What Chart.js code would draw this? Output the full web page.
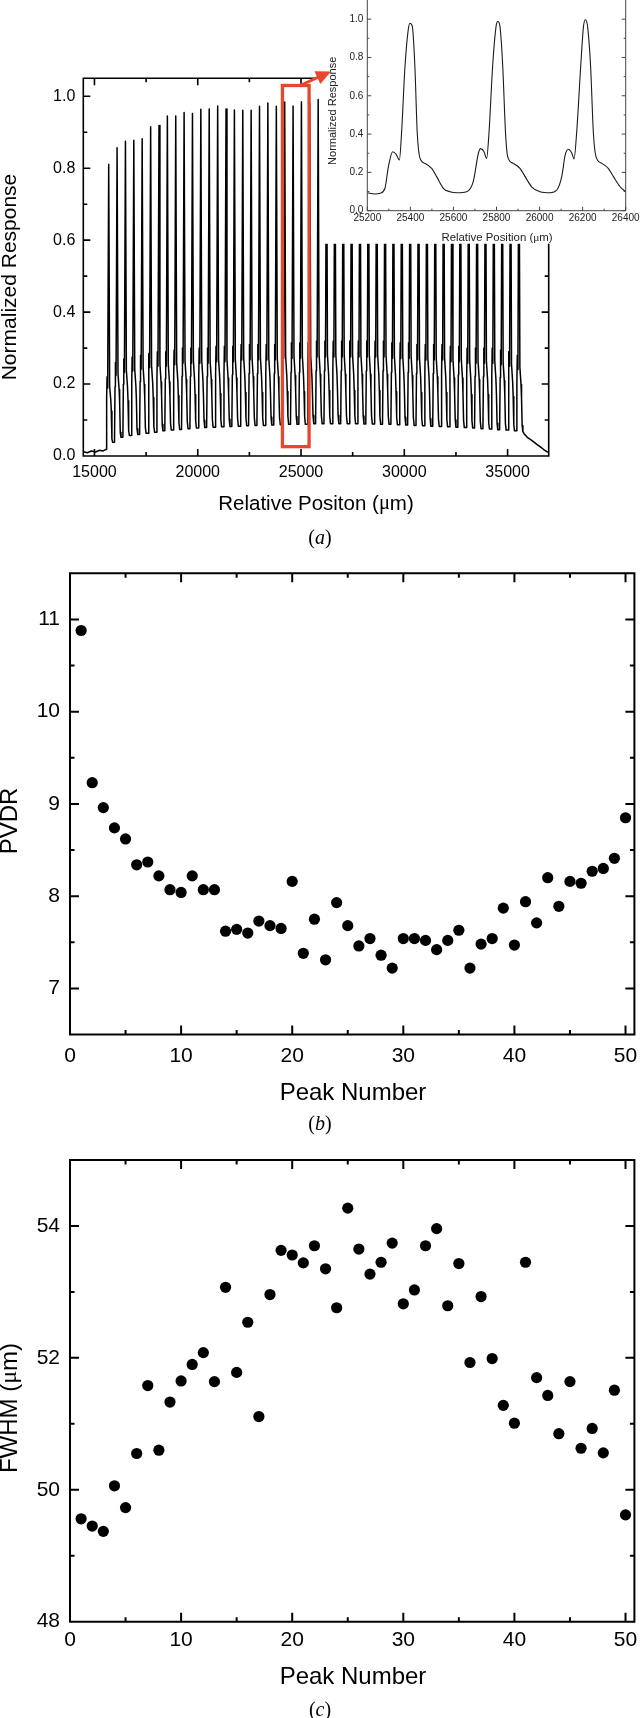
<!DOCTYPE html>
<html><head><meta charset="utf-8">
<script src="https://cdn.jsdelivr.net/npm/chart.js@4.4.1/dist/chart.umd.min.js"></script>
<style>
html,body{margin:0;padding:0;background:#fff;}
#page{position:relative;width:640px;height:1718px;overflow:hidden;background:#fff;}
canvas{position:absolute;}
.cap{position:absolute;left:0;width:640px;text-align:center;font-family:"Liberation Serif","Times New Roman",serif;font-size:20px;line-height:24px;height:24px;color:#000;}
</style></head><body>
<div id="page">
<canvas id="cA" width="640" height="530" style="left:0;top:0;width:640px;height:530px"></canvas>
<canvas id="cI" width="318" height="250" style="left:322px;top:0;width:318px;height:250px"></canvas>
<canvas id="cB" width="640" height="570" style="left:0;top:540px;width:640px;height:570px"></canvas>
<canvas id="cC" width="640" height="588" style="left:0;top:1130px;width:640px;height:588px"></canvas>
<div class="cap" style="top:525px">(<i>a</i>)</div>
<div class="cap" style="top:1111px">(<i>b</i>)</div>
<div class="cap" style="top:1697px">(<i>c</i>)</div>
</div>
<script>
const SANS = '"Liberation Sans", Arial, Helvetica, sans-serif';
const SERIF = '"Liberation Serif", "Times New Roman", serif';

// ---------- Panel (a): main scan ----------
const peakPositions = [15690,16095,16500,16905,17310,17720,18125,18530,18935,19340,
  19745,20150,20555,20965,21370,21775,22180,22585,22990,23395,
  23805,24210,24615,25020,25425,25830,26235,26640,27045,27450,
  27855,28260,28665,29070,29475,29880,30285,30690,31095,31500,
  31905,32310,32715,33120,33525,33930,34335,34740,35145,35550];
const peakHeights = [0.811,0.857,0.875,0.878,0.882,0.915,0.919,0.945,0.945,0.955,
  0.952,0.964,0.965,0.973,0.965,0.962,0.961,0.961,0.972,0.981,
  0.972,0.984,0.973,0.985,0.980,0.991,1.000,0.990,0.990,0.990,
  0.990,0.990,0.990,0.990,0.990,0.990,0.990,0.990,0.990,0.990,
  0.990,0.990,0.990,0.990,0.990,0.990,0.990,0.990,0.990,0.990];
const shoulderHeights = [0.22,0.26,0.27,0.275,0.28,0.285,0.29,0.29,0.295,0.30,
  0.30,0.30,0.30,0.305,0.305,0.305,0.31,0.31,0.31,0.31,
  0.31,0.315,0.315,0.315,0.315,0.32,0.32,0.32,0.32,0.32,
  0.32,0.32,0.32,0.32,0.315,0.315,0.315,0.31,0.31,0.31,
  0.31,0.305,0.305,0.30,0.30,0.30,0.30,0.295,0.29,0.28];
const valleyHeights = [0.038,0.052,0.057,0.060,0.063,0.066,0.070,0.072,0.074,0.076,
  0.078,0.079,0.080,0.081,0.082,0.083,0.084,0.085,0.085,0.086,
  0.087,0.088,0.088,0.088,0.090,0.090,0.090,0.090,0.090,0.090,
  0.089,0.089,0.088,0.088,0.087,0.086,0.085,0.084,0.083,0.082,
  0.081,0.080,0.079,0.078,0.076,0.075,0.073,0.072,0.070,0.068];
const baselineBeforeX = [14470,14650,14850,15050,15250,15420,15540];
const baselineBeforeY = [0.012,0.009,0.014,0.011,0.016,0.014,0.018];
const tailAfterX = [35800,35950,36100,36250,36400,36570,36750,36900,36990];
const tailAfterY = [0.062,0.052,0.046,0.040,0.033,0.026,0.018,0.012,0.010];
// peak profile (offset from peak centre in µm, level relative to shoulder)
const shapeOffsets = [-100,-80,-50,45,100,125];
const shapeRatios  = [0.74,1.00,0.86,0.88,0.71,0.57];
const xTicksA = [15000,20000,25000,30000,35000];
const xTickLabelsA = ['15000','20000','25000','30000','35000'];
const xMinorA = [17500,22500,27500,32500];
const yTicksA = [0,0.2,0.4,0.6,0.8,1.0];
const yTickLabelsA = ['0.0','0.2','0.4','0.6','0.8','1.0'];
const yMinorA = [0.1,0.3,0.5,0.7,0.9];
const redBoxX = [24100,25390];
const redBoxY = [0.026,1.03];

// ---------- Inset ----------
const insetX = [25200,25236,25259,25282,25298,25318,25333,25349,25359,25375,25390,25398,25409,25421,25432,25445,25468,25499,25522,25553,25584,25615,25661,25692,25716,25726,25742,25754,25765,25782,25798,25806,25816,25829,25842,25852,25878,25909,25933,25963,26002,26049,26080,26103,26119,26134,26150,26160,26172,26191,26204,26213,26223,26237,26250,26262,26289,26319,26343,26374,26400];
const insetY = [0.094,0.087,0.091,0.117,0.23,0.308,0.296,0.265,0.404,0.753,0.944,0.979,0.962,0.753,0.404,0.273,0.247,0.221,0.178,0.117,0.099,0.094,0.099,0.152,0.30,0.324,0.308,0.273,0.404,0.753,0.962,0.988,0.962,0.753,0.404,0.282,0.247,0.221,0.178,0.125,0.099,0.094,0.108,0.178,0.291,0.321,0.30,0.27,0.404,0.753,0.962,0.997,0.962,0.753,0.404,0.282,0.247,0.221,0.178,0.125,0.099];
const xTicksI = [25200,25400,25600,25800,26000,26200,26400];
const xTickLabelsI = ['25200','25400','25600','25800','26000','26200','26400'];
const xMinorI = [25300,25500,25700,25900,26100,26300];
const yTicksI = [0,0.2,0.4,0.6,0.8,1.0];
const yTickLabelsI = ['0.0','0.2','0.4','0.6','0.8','1.0'];
const yMinorI = [0.1,0.3,0.5,0.7,0.9];

// ---------- Panels (b) and (c) ----------
const peakNumbers = [1,2,3,4,5,6,7,8,9,10,11,12,13,14,15,16,17,18,19,20,21,22,23,24,25,
  26,27,28,29,30,31,32,33,34,35,36,37,38,39,40,41,42,43,44,45,46,47,48,49,50];
const pvdr = [10.88,9.23,8.96,8.74,8.62,8.34,8.37,8.22,8.07,8.04,
  8.22,8.07,8.07,7.62,7.64,7.60,7.73,7.68,7.65,8.16,
  7.38,7.75,7.31,7.93,7.68,7.46,7.54,7.36,7.22,7.54,
  7.54,7.52,7.42,7.52,7.63,7.22,7.48,7.54,7.87,7.47,
  7.94,7.71,8.20,7.89,8.16,8.14,8.27,8.30,8.41,8.85];
const fwhm = [49.56,49.45,49.37,50.06,49.73,50.55,51.58,50.60,51.33,51.65,
  51.90,52.08,51.64,53.07,51.78,52.54,51.11,52.96,53.63,53.56,
  53.44,53.70,53.35,52.76,54.27,53.65,53.27,53.45,53.74,52.82,
  53.03,53.70,53.96,52.79,53.43,51.93,52.93,51.99,51.28,51.01,
  53.45,51.70,51.43,50.85,51.64,50.63,50.93,50.56,51.51,49.62];
const xTicksBC = [0,10,20,30,40,50];
const xTickLabelsBC = ['0','10','20','30','40','50'];
const xMinorBC = [5,15,25,35,45];
const yTicksB = [7,8,9,10,11];
const yTickLabelsB = ['7','8','9','10','11'];
const yMinorB = [7.5,8.5,9.5,10.5];
const yTicksC = [48,50,52,54];
const yTickLabelsC = ['48','50','52','54'];
const yMinorC = [49,51,53];

// ---------- build main trace from the read values ----------
const mainTrace = [];
baselineBeforeX.forEach((x,i)=>mainTrace.push({x:x, y:baselineBeforeY[i]}));
peakPositions.forEach((p,i)=>{
  const s = shoulderHeights[i];
  const vPrev = i===0 ? baselineBeforeY[baselineBeforeY.length-1] : valleyHeights[i-1];
  const v = valleyHeights[i];
  mainTrace.push({x:p-125, y:vPrev});
  mainTrace.push({x:p+shapeOffsets[0], y:s*shapeRatios[0]});
  mainTrace.push({x:p+shapeOffsets[1], y:s*shapeRatios[1]});
  mainTrace.push({x:p+shapeOffsets[2], y:s*shapeRatios[2]});
  mainTrace.push({x:p, y:peakHeights[i]});
  mainTrace.push({x:p+shapeOffsets[3], y:s*shapeRatios[3]});
  mainTrace.push({x:p+shapeOffsets[4], y:s*shapeRatios[4]});
  mainTrace.push({x:p+shapeOffsets[5], y:s*shapeRatios[5]});
  mainTrace.push({x:p+155, y:Math.min(v*1.25, s*0.4)});
  mainTrace.push({x:p+190, y:v});
});
tailAfterX.forEach((x,i)=>mainTrace.push({x:x, y:tailAfterY[i]}));

const insetTrace = insetX.map((x,i)=>({x:x, y:insetY[i]}));
const pvdrPts = peakNumbers.map((n,i)=>({x:n, y:pvdr[i]}));
const fwhmPts = peakNumbers.map((n,i)=>({x:n, y:fwhm[i]}));

// ---------- helpers ----------
function drawTitle(ctx, t){
  ctx.save();
  ctx.fillStyle = t.color || '#000';
  ctx.textBaseline = 'middle'; ctx.textAlign = 'left';
  let w = 0;
  const segs = t.parts.map(([txt,fam])=>{ const f = t.size+'px '+fam; ctx.font = f; const m = ctx.measureText(txt).width; w += m; return [txt,f,m]; });
  ctx.translate(t.x, t.y); ctx.rotate(t.rot || 0);
  let cx = -w/2;
  segs.forEach(([txt,f,m])=>{ ctx.font = f; ctx.fillText(txt, cx, 0); cx += m; });
  ctx.restore();
}

const framePlugin = {
  id: 'frame',
  afterDatasetsDraw(chart, args, o){
    const ctx = chart.ctx, a = chart.chartArea, x = chart.scales.x, y = chart.scales.y;
    ctx.save();
    ctx.strokeStyle = o.color; ctx.lineWidth = o.lw; ctx.lineCap = 'butt';
    ctx.beginPath();
    if (o.top) { ctx.rect(a.left, a.top, a.right-a.left, a.bottom-a.top); }
    else { ctx.moveTo(a.left, a.top); ctx.lineTo(a.left, a.bottom); ctx.lineTo(a.right, a.bottom); ctx.lineTo(a.right, a.top); }
    const tx = (vals, len)=>vals.forEach(v=>{ const px = x.getPixelForValue(v);
      ctx.moveTo(px, a.bottom); ctx.lineTo(px, a.bottom-len);
      if (o.top) { ctx.moveTo(px, a.top); ctx.lineTo(px, a.top+len); } });
    const ty = (vals, len)=>vals.forEach(v=>{ const py = y.getPixelForValue(v);
      ctx.moveTo(a.left, py); ctx.lineTo(a.left+len, py);
      ctx.moveTo(a.right, py); ctx.lineTo(a.right-len, py); });
    tx(o.xMajor, o.maj); tx(o.xMinor, o.min); ty(o.yMajor, o.maj); ty(o.yMinor, o.min);
    ctx.stroke();
    ctx.restore();
    if (o.extra) o.extra(chart);
    (o.titles || []).forEach(t=>drawTitle(ctx, t));
  }
};

function axis(min, max, ticks, labels, font, color, pad, fix, horiz){
  return {
    type:'linear', min:min, max:max,
    afterBuildTicks: s=>{ s.ticks = ticks.map(v=>({value:v})); },
    afterFit: s=>{ if (horiz) { s.height = fix; s.paddingLeft = 0; s.paddingRight = 0; } else { s.width = fix; s.paddingTop = 0; s.paddingBottom = 0; } },
    ticks:{ font:{family:SANS, size:font}, color:color, padding:pad, autoSkip:false, maxRotation:0, minRotation:0, callback:(v,i)=>labels[i] },
    grid:{ display:false, drawTicks:false },
    border:{ display:false }
  };
}
const base = (pad)=>({ responsive:false, animation:false, devicePixelRatio:1, events:[],
  layout:{ padding: pad }, plugins:{ legend:{display:false}, tooltip:{enabled:false} } });

// ---------- chart (a) ----------
const optA = base({left:0, top:78.3, right:91.3, bottom:0});
optA.scales = { x: axis(14460, 36990, xTicksA, xTickLabelsA, 16, '#000', 7.4, 74, true),
                y: axis(0, 1.05, yTicksA, yTickLabelsA, 16, '#000', 8, 83.3, false) };
optA.plugins.frame = { color:'#000', lw:1.6, top:true, maj:7, min:4,
  xMajor:xTicksA, xMinor:xMinorA, yMajor:yTicksA, yMinor:yMinorA,
  extra: (chart)=>{
    const ctx = chart.ctx, x = chart.scales.x, y = chart.scales.y;
    ctx.save();
    // inset background
    ctx.fillStyle = '#fff';
    ctx.fillRect(322, 0, 318, y.getPixelForValue(0.59));
    // red box
    const l = x.getPixelForValue(redBoxX[0]), r = x.getPixelForValue(redBoxX[1]);
    const t = y.getPixelForValue(redBoxY[1]), b = y.getPixelForValue(redBoxY[0]);
    ctx.strokeStyle = '#e8472c'; ctx.lineWidth = 3.3;
    ctx.strokeRect(l, t, r-l, b-t);
    // arrow
    const sx = r-9, sy = t, ex = r+22, ey = t-14;
    const dx = ex-sx, dy = ey-sy, d = Math.hypot(dx,dy), ux = dx/d, uy = dy/d;
    ctx.beginPath(); ctx.moveTo(sx, sy); ctx.lineTo(ex-ux*12, ey-uy*12); ctx.lineWidth = 3; ctx.stroke();
    ctx.fillStyle = '#e8472c';
    ctx.beginPath(); ctx.moveTo(ex, ey);
    ctx.lineTo(ex-ux*15-uy*7, ey-uy*15+ux*7);
    ctx.lineTo(ex-ux*15+uy*7, ey-uy*15-ux*7);
    ctx.closePath(); ctx.fill();
    ctx.restore();
  },
  titles:[
    {parts:[['Relative Positon (',SANS],['\u03BC',SERIF],['m)',SANS]], size:20.5, x:316, y:504},
    {parts:[['Normalized Response',SANS]], size:21, x:10, y:277, rot:-Math.PI/2}
  ] };
new Chart(document.getElementById('cA'), { type:'scatter',
  data:{ datasets:[{ data:mainTrace, showLine:true, borderColor:'#000', borderWidth:1.5, pointRadius:0, tension:0, borderJoinStyle:'round' }] },
  options: optA, plugins:[framePlugin] });

// ---------- inset ----------
const optI = base({left:0, top:0, right:14.3, bottom:0});
optI.scales = { x: axis(25200, 26400, xTicksI, xTickLabelsI, 10, '#222', 1.6, 39.3, true),
                y: axis(0, 1.1, yTicksI, yTickLabelsI, 10, '#222', 4, 45.3, false) };
optI.plugins.frame = { color:'#444', lw:1, top:false, maj:4, min:2,
  xMajor:xTicksI, xMinor:xMinorI, yMajor:yTicksI, yMinor:yMinorI,
  titles:[
    {parts:[['Relative Position (',SANS],['\u03BC',SERIF],['m)',SANS]], size:11.4, x:175, y:238, color:'#222'},
    {parts:[['Normalized Response',SANS]], size:11, x:11, y:110.8, rot:-Math.PI/2, color:'#222'}
  ] };
new Chart(document.getElementById('cI'), { type:'scatter',
  data:{ datasets:[{ data:insetTrace, showLine:true, borderColor:'#1c1c1c', borderWidth:1.1, pointRadius:0, cubicInterpolationMode:'monotone' }] },
  options: optI, plugins:[framePlugin] });

// ---------- chart (b) ----------
const optB = base({left:0, top:33.3, right:4, bottom:0});
optB.scales = { x: axis(0, 50.8, xTicksBC, xTickLabelsBC, 21, '#000', 8.7, 75.5, true),
                y: axis(6.5, 11.5, yTicksB, yTickLabelsB, 21, '#000', 10, 70, false) };
optB.plugins.frame = { color:'#000', lw:2, top:true, maj:9, min:4.5,
  xMajor:xTicksBC, xMinor:xMinorBC, yMajor:yTicksB, yMinor:yMinorB,
  titles:[
    {parts:[['Peak Number',SANS]], size:24, x:353, y:553},
    {parts:[['PVDR',SANS]], size:24, x:10, y:281, rot:-Math.PI/2}
  ] };
new Chart(document.getElementById('cB'), { type:'scatter',
  data:{ datasets:[{ data:pvdrPts, pointRadius:5.6, backgroundColor:'#000', borderWidth:0, clip:false }] },
  options: optB, plugins:[framePlugin] });

// ---------- chart (c) ----------
const optC = base({left:0, top:30, right:4, bottom:0});
optC.scales = { x: axis(0, 50.8, xTicksBC, xTickLabelsBC, 21, '#000', 5.7, 96.3, true),
                y: axis(48, 55, yTicksC, yTickLabelsC, 21, '#000', 10, 70, false) };
optC.plugins.frame = { color:'#000', lw:2, top:true, maj:9, min:4.5,
  xMajor:xTicksBC, xMinor:xMinorBC, yMajor:yTicksC, yMinor:yMinorC,
  titles:[
    {parts:[['Peak Number',SANS]], size:24, x:353, y:547},
    {parts:[['FWHM (',SANS],['\u03BC',SERIF],['m)',SANS]], size:24, x:10, y:278, rot:-Math.PI/2}
  ] };
new Chart(document.getElementById('cC'), { type:'scatter',
  data:{ datasets:[{ data:fwhmPts, pointRadius:5.6, backgroundColor:'#000', borderWidth:0, clip:false }] },
  options: optC, plugins:[framePlugin] });
</script>
</body></html>
